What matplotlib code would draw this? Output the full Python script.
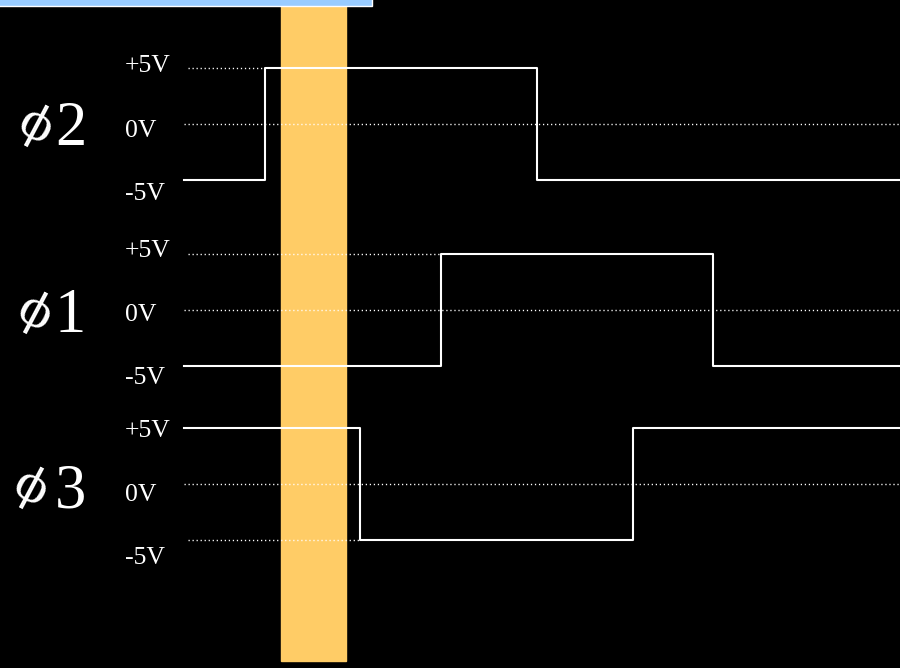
import matplotlib.pyplot as plt
from matplotlib.patches import Rectangle

# time axis (horizontal position of the trace, in screen units)
t_start = 184
t_end = 900
# highlighted sampling window
window = (281, 346)

# clock phases, top to bottom
names = ["2", "1", "3"]
first_level = [-5, -5, 5]          # volts at t_start
edges = [[265, 537], [441, 713], [360, 633]]
level_ticks = ["+5V", "0V", "-5V"]

# pixel rows of +5V / -5V for each strip, and label baselines
rows = [(68, 180), (254, 366), (428, 540)]
tick_base = [[72, 137, 200], [257, 321, 384], [437, 501, 564]]
digit_base = [145, 332, 507]
phi_center = [(35, 126), (34, 313), (30, 488)]

W, H = 900, 668
fig = plt.figure(figsize=(W / 100, H / 100), dpi=100, facecolor="black")

bg = fig.add_axes([0, 0, 1, 1])
bg.set_xlim(0, W)
bg.set_ylim(H, 0)
bg.axis("off")
bg.set_facecolor("black")
bg.axvspan(window[0], window[1], ymin=1 - 661 / H, ymax=1, color="#FFCC66", zorder=1)
bg.add_patch(Rectangle((-5, -10), 377, 16, facecolor="#99CCFF", edgecolor="white",
                       linewidth=1, zorder=5))

serif = "Liberation Serif"
for i, name in enumerate(names):
    hi, lo = rows[i]
    ax = fig.add_axes([0, 1 - lo / H, 1, (lo - hi) / H])
    ax.set_xlim(0, W)
    ax.set_ylim(-5, 5)
    ax.axis("off")
    ax.patch.set_alpha(0)

    l0 = first_level[i]
    e1, e2 = edges[i]
    xs = [t_start, e1, e1, e2, e2, t_end]
    ys = [l0, l0, -l0, -l0, l0, l0]

    # dotted reference levels
    ax.plot([t_start, t_end], [0, 0], color="white", lw=1.0,
            dashes=(0.9, 2.0), clip_on=False, zorder=2)
    ax.plot([t_start + 4, e1], [-l0, -l0], color="white", lw=1.0,
            dashes=(0.9, 2.0), clip_on=False, zorder=2)
    ax.plot(xs, ys, color="white", lw=1.5, clip_on=False, zorder=3)

    for lab, yb in zip(level_ticks, tick_base[i]):
        bg.text(125, yb, lab, color="white", fontsize=18.5, family=serif,
                ha="left", va="baseline", zorder=6)

    bg.text(55, digit_base[i], name, color="white", fontsize=45, family=serif,
            ha="left", va="baseline", zorder=6)
    # straight phi, tilted so the stem reads as a slash
    cx, cy = phi_center[i]
    bg.text(cx, cy, "\u03d5", color="white", fontsize=34, family="DejaVu Serif",
            ha="center", va="center", rotation=-28, rotation_mode="anchor", zorder=6)

fig.savefig("out.png", dpi=100, facecolor="black")
